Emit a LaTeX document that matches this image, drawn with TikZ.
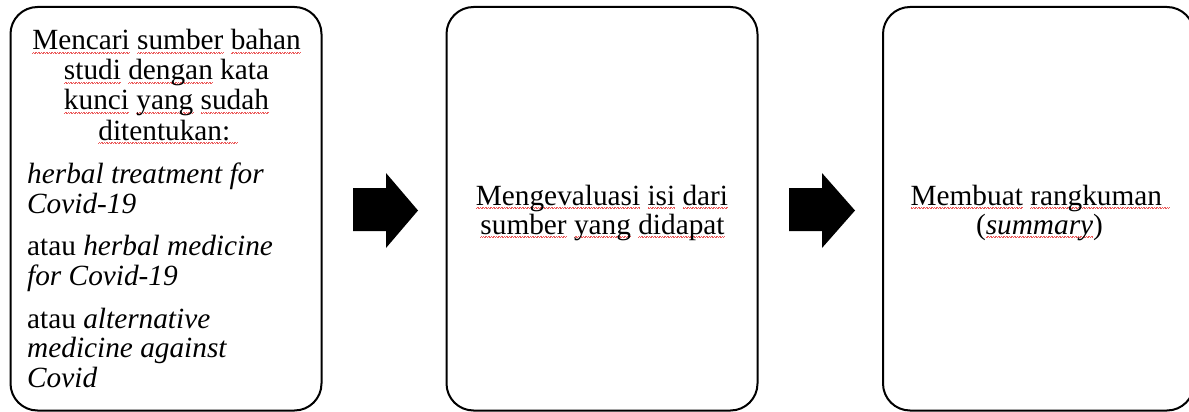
\documentclass[tikz,border=0pt]{standalone}
\usepackage{fontspec}
\setmainfont{Liberation Serif}
\definecolor{sqred}{RGB}{235,90,90}
\newcommand\sqw[1]{\setbox0\hbox{#1}%
  \rlap{\color{sqred}\lower2.6pt\hbox to \wd0{\xleaders\hbox{\rule[-0.6pt]{0.8pt}{0.55pt}\rule[0pt]{0.8pt}{0.55pt}}\hfil}}%
  \box0\relax}
\tikzset{
  stagebox/.style={draw=black, line width=2pt, rounded corners=27pt,
    minimum width=311pt, minimum height=403.5pt, inner sep=0pt},
  txt/.style={font=\fontsize{29.3}{30}\selectfont, inner sep=0pt, anchor=base},
  txtl/.style={txt, anchor=base west},
  blockarrow/.style={fill=black}
}
\begin{document}
\begin{tikzpicture}[x=1pt,y=-1pt]
\useasboundingbox (0,0) rectangle (1189,412);
% boxes
\node[stagebox] (b1) at (166,208.75) {};
\node[stagebox] (b2) at (602,208.75) {};
\node[stagebox] (b3) at (1038.5,208.75) {};
% box 1 text
\node[txt] (t1) at (166.5,50) {\sqw{Mencari} \sqw{sumber} \sqw{bahan}};
\node[txt] (t2) at (166.5,80) {\sqw{studi} \sqw{dengan} kata};
\node[txt] (t3) at (166.5,110) {\sqw{kunci} \sqw{yang} \sqw{sudah}};
\node[txt] (t4) at (168,140) {\sqw{ditentukan:\ }};
\node[txtl] (t5) at (27,183) {\itshape herbal treatment for};
\node[txtl] (t6) at (27,213) {\itshape Covid-19};
\node[txtl] (t7) at (27,255) {atau \itshape herbal medicine};
\node[txtl] (t8) at (27,285) {\itshape for Covid-19};
\node[txtl] (t9) at (27,328) {atau \itshape alternative};
\node[txtl] (t10) at (27,357) {\itshape medicine against};
\node[txtl] (t11) at (27,387) {\itshape Covid};
% box 2 text
\node[txt] (m1) at (602,205) {\sqw{Mengevaluasi} \sqw{isi} \sqw{dari}};
\node[txt] (m2) at (602.5,234) {\sqw{sumber} \sqw{yang} \sqw{didapat}};
% box 3 text
\node[txt] (r1) at (1040,205) {\sqw{Membuat} \sqw{rangkuman\ }};
\node[txt] (r2) at (1039.5,234) {(\sqw{\itshape summary})};
% block arrows
\fill[blockarrow] (353,188) -- (386,188) -- (386,173) -- (418,210.5) -- (386,248) -- (386,231) -- (353,231) -- cycle;
\fill[blockarrow] (789,188) -- (822,188) -- (822,173) -- (855,210.5) -- (822,248) -- (822,231) -- (789,231) -- cycle;
\end{tikzpicture}
\end{document}
